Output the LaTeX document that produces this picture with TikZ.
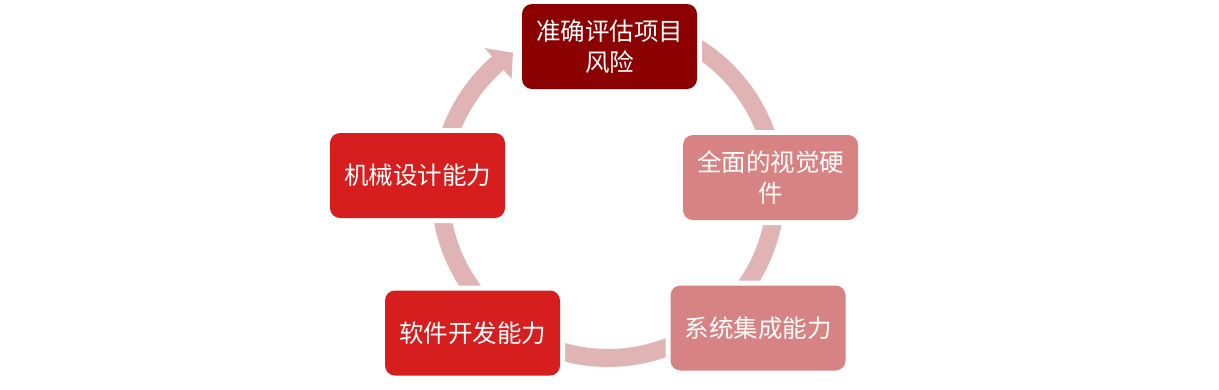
\documentclass[tikz,border=0pt]{standalone}
\usepackage{fontspec}
\newfontfamily\cjk{Noto Sans CJK SC}
\usetikzlibrary{backgrounds}
\definecolor{topred}{RGB}{139,0,0}
\definecolor{boxred}{RGB}{214,30,30}
\definecolor{boxpink}{RGB}{216,131,131}
\definecolor{bandcol}{RGB}{224,180,180}
\tikzset{
  stage/.style={rounded corners=10pt, minimum width=175pt, minimum height=85pt,
    inner sep=0pt, align=center, text=white,
    font=\cjk\fontsize{24.5}{31}\selectfont,
    preaction={draw=white, line width=10pt}},
  band/.style={draw=bandcol, line width=18pt, line cap=butt}
}
\begin{document}
\begin{tikzpicture}[x=1pt,y=1pt]
\useasboundingbox (0,0) rectangle (1219,-389);
\coordinate (c) at (608,-190);
% nodes
\node[stage, fill=topred]  (risk)  at (609.5,-46.5) {准确评估项目\\风险};
\node[stage, fill=boxpink] (vis)   at (770.5,-177.5) {全面的视觉硬\\件};
\node[stage, fill=boxpink] (sys)   at (758,-328) {系统集成能力};
\node[stage, fill=boxred]  (soft)  at (472.5,-333) {软件开发能力};
\node[stage, fill=boxred]  (mech)  at (417.5,-175.5) {机械设计能力};
\begin{scope}[on background layer]
  \draw[band] (c) ++(89.4:168) arc[start angle=89.4, end angle=4.4, radius=168];
  \draw[band] (c) ++(4.4:168) arc[start angle=4.4, end angle=-42.6, radius=168];
  \draw[band] (c) ++(-42.6:168) arc[start angle=-42.6, end angle=-133.5, radius=168];
  \draw[band] (c) ++(226.5:168) arc[start angle=226.5, end angle=175.6, radius=168];
  \draw[band] (c) ++(175.6:168) arc[start angle=175.6, end angle=130.6, radius=168];
\end{scope}
\fill[bandcol] ([shift={(131:188)}]c) -- ([shift={(124.7:167)}]c) -- ([shift={(131:147)}]c) -- cycle;
\end{tikzpicture}
\end{document}
